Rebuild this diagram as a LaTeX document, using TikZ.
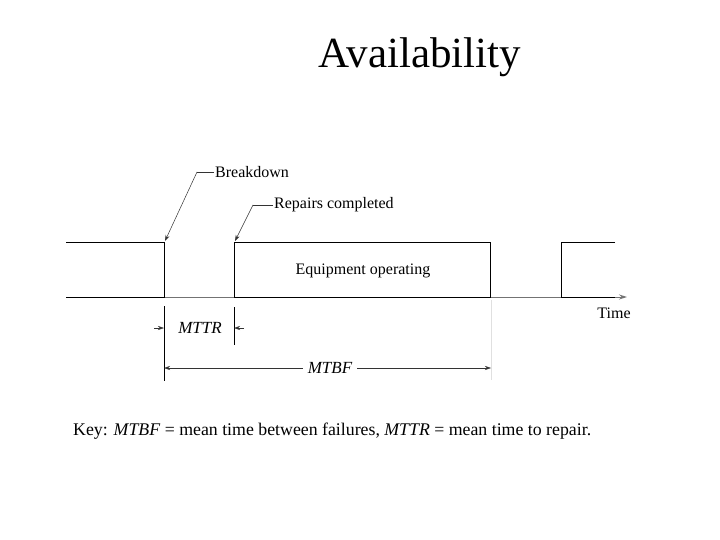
\documentclass[tikz,border=0pt]{standalone}
\usepackage{fontspec}
\setmainfont{Liberation Serif}
\usetikzlibrary{arrows.meta}
\begin{document}
\begin{tikzpicture}[x=1pt,y=-1pt,
  sig/.style={draw=black, line width=0.9pt},
  axis/.style={draw=black!55, line width=1pt},
  lead/.style={draw=black!80, line width=0.5pt},
  tip/.style={-{Stealth[length=6pt,width=4pt]}},
  lbl/.style={font=\fontsize{16}{18}\selectfont, inner sep=1pt},
  dim/.style={font=\fontsize{17}{19}\selectfont\itshape, inner sep=1pt},
  tick/.style={draw=black, line width=0.6pt}]
\useasboundingbox (0,0) rectangle (720,540);
% title
\node[font=\fontsize{43}{50}\selectfont] (title) at (420,57) {Availability};
% time axis
\coordinate (a0) at (66,297);
\coordinate (a1) at (627,297);
\draw[axis, -{Stealth[length=8pt,width=5pt]}] (a0) -- (a1);
\node[lbl] (time) at (614,313) {Time};
% signal blocks
\draw[sig] (66,297) -- (164,297) -- (164,242) -- (66,242);
\draw[sig] (234,297) rectangle (490,242);
\draw[sig] (615,242) -- (561,242) -- (561,297) -- (615,297);
\node[lbl] (op) at (363,271) {Equipment operating};
% leaders
\coordinate (bdtip) at (165,241);
\coordinate (bdk) at (197,172);
\node[lbl, anchor=west] (bd) at (214,172) {Breakdown};
\draw[lead] (bd.west) -- (bdk);
\draw[lead, tip] (bdk) -- (bdtip);
\coordinate (rctip) at (235,241);
\coordinate (rck) at (253,205);
\node[lbl, anchor=west] (rc) at (273,205) {Repairs completed};
\draw[lead] (rc.west) -- (rck);
\draw[lead, tip] (rck) -- (rctip);
% dimension ticks
\draw[tick] (164,306) -- (164,381);
\draw[tick] (234,307) -- (234,345);
\draw[draw=black!12, line width=0.5pt] (491,300) -- (491,380);
% MTTR
\node[dim] (mttr) at (200,328) {MTTR};
\coordinate (m1) at (154,328);
\coordinate (m2) at (164,328);
\coordinate (m3) at (244,328);
\coordinate (m4) at (234,328);
\draw[lead, tip] (m1) -- (m2);
\draw[lead, tip] (m3) -- (m4);
% MTBF
\node[dim] (mtbf) at (330,368) {MTBF};
\coordinate (b1) at (164,368);
\coordinate (b2) at (491,368);
\draw[lead, tip] (mtbf.west) ++(-4,0) -- (b1);
\draw[lead, tip] (mtbf.east) ++(4,0) -- (b2);
% key
\node[anchor=west, font=\fontsize{17.8}{20}\selectfont, inner sep=0pt] (key) at (73,431)
  {Key: \textit{MTBF} = mean time between failures, \textit{MTTR} = mean time to repair.};
\end{tikzpicture}
\end{document}
